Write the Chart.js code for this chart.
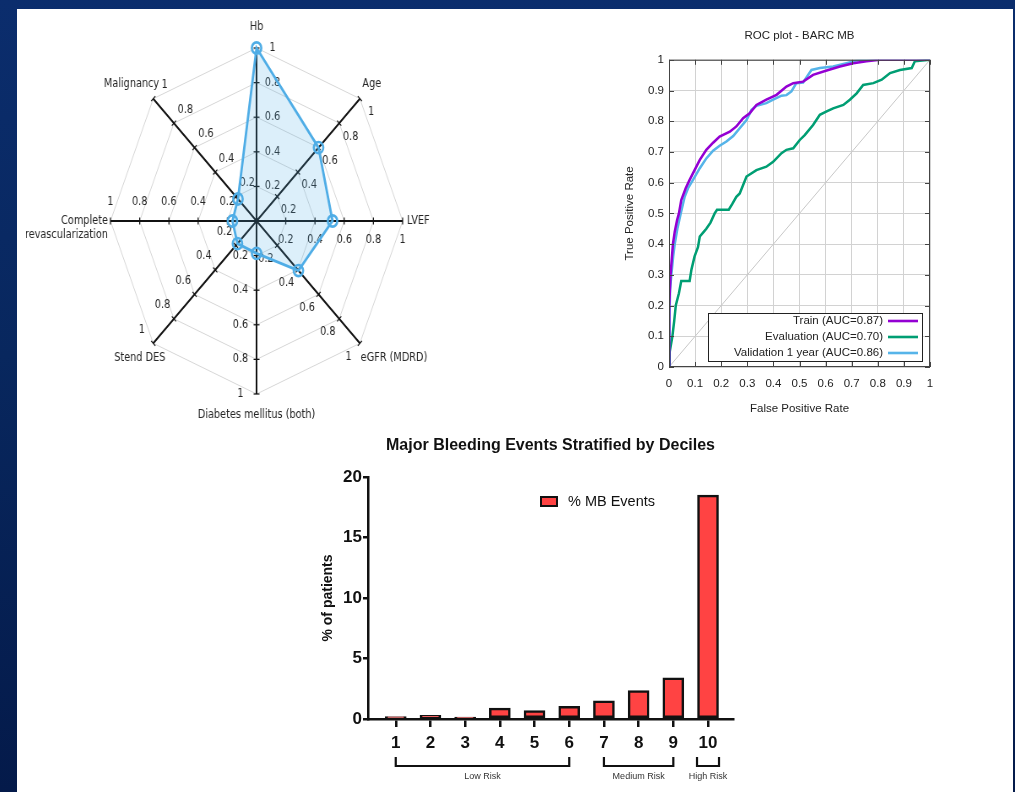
<!DOCTYPE html>
<html><head><meta charset="utf-8">
<script src="https://cdn.jsdelivr.net/npm/chart.js@4.4.1/dist/chart.umd.min.js"></script>
<style>
html,body{margin:0;padding:0;width:1015px;height:792px;overflow:hidden;}
body{position:relative;background:linear-gradient(180deg,#0b2d6d 0%,#08275e 45%,#041a4a 100%);}
#panel{position:absolute;left:17px;top:9px;width:996px;height:783px;background:#fff;}
#radarWrap{position:absolute;left:26.3px;top:8px;width:546px;height:426px;transform:scaleX(0.8445);transform-origin:0 0;}
#roc{position:absolute;left:600px;top:10px;}
#bar{position:absolute;left:300px;top:425px;}
</style></head>
<body>
<div id="panel"></div>
<div id="radarWrap"><canvas id="radar" width="546" height="426"></canvas></div>
<canvas id="roc" width="350" height="410"></canvas>
<canvas id="bar" width="450" height="367"></canvas>
<script>
// ---------- Radar data ----------
const radarAxes = ['Hb', 'Age', 'LVEF', 'eGFR (MDRD)', 'Diabetes mellitus (both)', 'Stend DES', ['Complete', 'revascularization'], 'Malignancy'];
const radarValues = [1.0, 0.6, 0.52, 0.405, 0.187, 0.185, 0.165, 0.18];
const radarTicks = [0.2, 0.4, 0.6, 0.8, 1];

// ---------- ROC data ----------
const rocTicks = [0, 0.1, 0.2, 0.3, 0.4, 0.5, 0.6, 0.7, 0.8, 0.9, 1];
const trainFpr = [0, 0.001, 0.006, 0.015, 0.022, 0.031, 0.038, 0.047, 0.064, 0.079, 0.098, 0.118, 0.143, 0.169, 0.194, 0.233, 0.258, 0.284, 0.309, 0.335, 0.373, 0.412, 0.450, 0.476, 0.514, 0.552, 0.604, 0.655, 0.706, 0.757, 0.808, 1];
const trainTpr = [0, 0.2, 0.3, 0.4, 0.44, 0.478, 0.5, 0.543, 0.582, 0.609, 0.641, 0.674, 0.707, 0.730, 0.750, 0.766, 0.783, 0.810, 0.826, 0.853, 0.870, 0.886, 0.913, 0.924, 0.929, 0.951, 0.965, 0.978, 0.989, 0.995, 1, 1];
const evalFpr = [0, 0.003, 0.013, 0.02, 0.026, 0.038, 0.047, 0.079, 0.086, 0.098, 0.111, 0.118, 0.133, 0.143, 0.159, 0.175, 0.184, 0.229, 0.242, 0.258, 0.271, 0.297, 0.335, 0.373, 0.399, 0.431, 0.450, 0.476, 0.501, 0.520, 0.552, 0.578, 0.604, 0.629, 0.668, 0.693, 0.719, 0.744, 0.783, 0.815, 0.847, 0.885, 0.930, 0.942, 1];
const evalTpr = [0, 0.05, 0.1, 0.15, 0.2, 0.24, 0.28, 0.28, 0.317, 0.36, 0.39, 0.425, 0.44, 0.45, 0.47, 0.5, 0.512, 0.512, 0.53, 0.554, 0.565, 0.62, 0.641, 0.652, 0.668, 0.696, 0.707, 0.712, 0.739, 0.755, 0.788, 0.821, 0.832, 0.842, 0.853, 0.870, 0.891, 0.918, 0.924, 0.935, 0.957, 0.967, 0.973, 0.995, 1];
const validFpr = [0, 0.002, 0.004, 0.009, 0.016, 0.022, 0.032, 0.045, 0.060, 0.073, 0.092, 0.118, 0.143, 0.169, 0.194, 0.220, 0.246, 0.271, 0.297, 0.316, 0.335, 0.373, 0.399, 0.431, 0.450, 0.469, 0.488, 0.514, 0.533, 0.546, 0.578, 0.629, 0.680, 0.719, 0.757, 1];
const validTpr = [0, 0.15, 0.25, 0.3, 0.36, 0.4, 0.45, 0.5, 0.554, 0.582, 0.609, 0.647, 0.679, 0.704, 0.720, 0.734, 0.752, 0.777, 0.804, 0.837, 0.850, 0.859, 0.870, 0.883, 0.885, 0.897, 0.924, 0.926, 0.951, 0.967, 0.973, 0.978, 0.989, 0.998, 1, 1];
const rocLabels = ['Train (AUC=0.87)', 'Evaluation (AUC=0.70)', 'Validation 1 year (AUC=0.86)'];

// ---------- Bar data ----------
const deciles = [1, 2, 3, 4, 5, 6, 7, 8, 9, 10];
const mbEvents = [0.2, 0.3, 0.15, 0.9, 0.7, 1.05, 1.5, 2.35, 3.4, 18.5];
const barYTicks = [0, 5, 10, 15, 20];
const riskGroups = ['Low Risk', 'Medium Risk', 'High Risk'];
const riskFrom = [1, 7, 10];
const riskTo = [6, 9, 10];

Chart.defaults.font.family = "'Liberation Sans', Arial, sans-serif";

// ================= RADAR =================
const radarAxisPlugin = {
  id: 'radarAxis',
  beforeDatasetsDraw(chart) {
    const s = chart.scales.r, ctx = chart.ctx;
    const n = radarAxes.length;
    const R = s.drawingArea;
    ctx.save();
    ctx.font = '11.5px "DejaVu Sans"';
    ctx.fillStyle = '#262626';
    ctx.strokeStyle = '#111';
    ctx.lineWidth = 1.2;
    for (let i = 0; i < n; i++) {
      const a = s.getIndexAngle(i) - Math.PI / 2;
      const c = Math.cos(a), sn = Math.sin(a);
      const px = -sn, py = c;
      radarTicks.forEach(v => {
        const p = s.getPointPosition(i, s.getDistanceFromCenterForValue(v));
        ctx.beginPath();
        ctx.moveTo(p.x - px * 3.5, p.y - py * 3.5);
        ctx.lineTo(p.x + px * 3.5, p.y + py * 3.5);
        ctx.stroke();
        ctx.textAlign = 'center';
        ctx.textBaseline = 'middle';
        ctx.fillText(String(v), p.x + px * 19, p.y + py * 19);
      });
      // axis name
      const e = s.getPointPosition(i, R);
      const lab = radarAxes[i];
      const lines = Array.isArray(lab) ? lab : [lab];
      let x, y, align;
      if (Math.abs(c) < 0.1) {
        align = 'center'; x = e.x; y = e.y + Math.sign(sn) * 21;
      } else if (Math.abs(sn) < 0.1) {
        align = c > 0 ? 'left' : 'right'; x = e.x + (c > 0 ? 5 : -3); y = e.y;
      } else if (sn < 0) {
        y = e.y - 15;
        if (c > 0) { align = 'left'; x = e.x + 3; } else { align = 'right'; x = e.x + 7; }
      } else {
        y = e.y + 15;
        if (c > 0) { align = 'left'; x = e.x + 1; } else { align = 'center'; x = e.x - 16; }
      }
      ctx.textAlign = align;
      ctx.textBaseline = 'middle';
      lines.forEach((t, k) => ctx.fillText(t, x, y + k * 14));
    }
    ctx.restore();
  }
};

new Chart(document.getElementById('radar'), {
  type: 'radar',
  data: {
    labels: radarAxes,
    datasets: [{
      data: radarValues,
      borderColor: '#4fade6',
      backgroundColor: 'rgba(79,173,230,0.2)',
      borderWidth: 2.8,
      fill: true,
      pointRadius: 5.6,
      pointBorderWidth: 2.6,
      pointBorderColor: '#4fade6',
      pointBackgroundColor: 'rgba(255,255,255,0)'
    }]
  },
  options: {
    responsive: false, animation: false, devicePixelRatio: 1,
    layout: { padding: { left: 100, right: 100, top: 40, bottom: 40 } },
    plugins: { legend: { display: false }, tooltip: { enabled: false } },
    scales: {
      r: {
        min: 0, max: 1,
        ticks: { display: false, stepSize: 0.2 },
        grid: { color: '#d6d6d6', lineWidth: 1 },
        angleLines: { color: '#111', lineWidth: 2 },
        pointLabels: { display: false }
      }
    }
  },
  plugins: [radarAxisPlugin]
});

// ================= ROC =================
const rocFont = { family: "'Liberation Sans', Arial, sans-serif", size: 11.5, weight: 'normal' };
const rocColors = ['#9400d3', '#009e73', '#56b4e9'];
const rocPlugin = {
  id: 'rocFrame',
  afterDraw(chart) {
    const ctx = chart.ctx, ca = chart.chartArea;
    const xs = chart.scales.x, ys = chart.scales.y;
    ctx.save();
    ctx.strokeStyle = '#444';
    ctx.lineWidth = 1;
    ctx.strokeRect(ca.left + 0.5, ca.top + 0.5, ca.right - ca.left - 1, ca.bottom - ca.top - 1);
    ctx.beginPath();
    rocTicks.forEach(v => {
      const px = Math.round(xs.getPixelForValue(v)) + 0.5;
      ctx.moveTo(px, ca.bottom); ctx.lineTo(px, ca.bottom - 5);
      ctx.moveTo(px, ca.top); ctx.lineTo(px, ca.top + 5);
      const py = Math.round(ys.getPixelForValue(v)) + 0.5;
      ctx.moveTo(ca.left, py); ctx.lineTo(ca.left + 5, py);
      ctx.moveTo(ca.right, py); ctx.lineTo(ca.right - 5, py);
    });
    ctx.stroke();
    // legend box
    const L = ca.left + 39, Rr = ca.right - 7, T = ca.bottom - 54, B = ca.bottom - 5;
    ctx.fillStyle = '#fff';
    ctx.fillRect(L, T, Rr - L, B - T);
    ctx.strokeStyle = '#222';
    ctx.strokeRect(L + 0.5, T + 0.5, Rr - L - 1, B - T - 1);
    ctx.font = "11.5px 'Liberation Sans', Arial, sans-serif";
    ctx.textAlign = 'right';
    ctx.textBaseline = 'middle';
    for (let i = 0; i < 3; i++) {
      const yy = T + 8 + i * 16;
      ctx.fillStyle = '#222';
      ctx.fillText(chart.data.datasets[i].label, Rr - 40, yy);
      ctx.strokeStyle = chart.data.datasets[i].borderColor;
      ctx.lineWidth = 2.6;
      ctx.beginPath(); ctx.moveTo(Rr - 35, yy); ctx.lineTo(Rr - 5, yy); ctx.stroke();
    }
    ctx.restore();
  }
};
const toPts = (xs, ys) => xs.map((x, i) => ({ x: x, y: ys[i] }));
new Chart(document.getElementById('roc'), {
  type: 'line',
  data: {
    datasets: [
      { label: rocLabels[0], data: toPts(trainFpr, trainTpr), borderColor: rocColors[0], borderWidth: 2.5, pointRadius: 0, tension: 0 },
      { label: rocLabels[1], data: toPts(evalFpr, evalTpr), borderColor: rocColors[1], borderWidth: 2.5, pointRadius: 0, tension: 0 },
      { label: rocLabels[2], data: toPts(validFpr, validTpr), borderColor: rocColors[2], borderWidth: 2.5, pointRadius: 0, tension: 0 },
      { label: 'ref', data: [{ x: 0, y: 0 }, { x: 1, y: 1 }], borderColor: '#c8c8c8', borderWidth: 1, pointRadius: 0 }
    ]
  },
  options: {
    responsive: false, animation: false, devicePixelRatio: 1,
    layout: { padding: { left: 23, right: 20, top: 19, bottom: 4 } },
    plugins: {
      legend: { display: false }, tooltip: { enabled: false },
      title: { display: true, fullSize: false, text: 'ROC plot - BARC MB', color: '#222', font: rocFont, padding: { top: 0, bottom: 17 } }
    },
    scales: {
      x: {
        type: 'linear', min: 0, max: 1,
        afterBuildTicks: s => { s.ticks = rocTicks.map(v => ({ value: v })); },
        ticks: { color: '#222', font: rocFont, padding: 10, maxRotation: 0, callback: v => String(v) },
        grid: { color: '#d2d2d2', drawTicks: false },
        border: { display: false },
        title: { display: true, text: 'False Positive Rate', color: '#222', font: rocFont, padding: 0 },
        afterFit: s => { s.height = 49; }
      },
      y: {
        type: 'linear', min: 0, max: 1,
        afterBuildTicks: s => { s.ticks = rocTicks.map(v => ({ value: v })); },
        ticks: { color: '#222', font: rocFont, padding: 5, callback: v => String(v) },
        grid: { color: '#d2d2d2', drawTicks: false },
        border: { display: false },
        title: { display: true, text: 'True Positive Rate', color: '#222', font: rocFont, padding: 0 },
        afterFit: s => { s.width = 46; }
      }
    }
  },
  plugins: [rocPlugin]
});

// ================= BAR =================
const barPlugin = {
  id: 'barExtras',
  afterDraw(chart) {
    const ctx = chart.ctx, ca = chart.chartArea, xs = chart.scales.x;
    const ds = chart.data.datasets[0];
    ctx.save();
    // legend
    const lx = ca.left + 173, ly = ca.top + 20;
    ctx.fillStyle = ds.backgroundColor;
    ctx.fillRect(lx, ly, 16, 9);
    ctx.strokeStyle = '#111'; ctx.lineWidth = 2;
    ctx.strokeRect(lx, ly, 16, 9);
    ctx.fillStyle = '#111';
    ctx.font = "14.5px 'Liberation Sans', Arial, sans-serif";
    ctx.textAlign = 'left'; ctx.textBaseline = 'middle';
    ctx.fillText(ds.label, ca.left + 200, ly + 5);
    // risk brackets
    ctx.lineWidth = 2.2;
    ctx.strokeStyle = '#111';
    ctx.font = "9px 'Liberation Sans', Arial, sans-serif";
    ctx.fillStyle = '#333';
    ctx.textAlign = 'center';
    for (let g = 0; g < riskGroups.length; g++) {
      let x1 = xs.getPixelForValue(riskFrom[g]);
      let x2 = xs.getPixelForValue(riskTo[g]);
      if (riskFrom[g] === riskTo[g]) { x1 -= 11; x2 += 11; }
      const yb = ca.bottom + 47, yt = ca.bottom + 38;
      ctx.beginPath();
      ctx.moveTo(x1, yt); ctx.lineTo(x1, yb); ctx.lineTo(x2, yb); ctx.lineTo(x2, yt);
      ctx.stroke();
      ctx.fillText(riskGroups[g], (x1 + x2) / 2, ca.bottom + 58);
    }
    ctx.restore();
  }
};
const boldFont = (sz) => ({ family: "'Liberation Sans', Arial, sans-serif", size: sz, weight: 'bold' });
new Chart(document.getElementById('bar'), {
  type: 'bar',
  data: {
    datasets: [{
      label: '% MB Events',
      data: deciles.map((d, i) => ({ x: d, y: mbEvents[i] })),
      backgroundColor: '#ff4343',
      borderColor: '#111',
      borderWidth: 2.5,
      borderSkipped: false,
      barThickness: 21
    }]
  },
  options: {
    responsive: false, animation: false, devicePixelRatio: 1,
    layout: { padding: { left: 20, right: 17, top: 11, bottom: 0 } },
    plugins: {
      legend: { display: false }, tooltip: { enabled: false },
      title: { display: true, fullSize: false, text: 'Major Bleeding Events Stratified by Deciles', color: '#111', font: boldFont(16), padding: { top: 0, bottom: 21.8 } }
    },
    scales: {
      x: {
        type: 'linear', min: 0.2, max: 10.72, offset: false,
        afterBuildTicks: s => { s.ticks = deciles.map(v => ({ value: v })); },
        ticks: { color: '#111', font: boldFont(17), padding: 5.8, maxRotation: 0, callback: v => String(v) },
        grid: { display: true, drawOnChartArea: false, offset: false, tickLength: 8, color: '#111', lineWidth: 2.5 },
        border: { display: true, color: '#111', width: 2.5 },
        afterFit: s => { s.height = 73; }
      },
      y: {
        min: 0, max: 20,
        afterBuildTicks: s => { s.ticks = barYTicks.map(v => ({ value: v })); },
        ticks: { color: '#111', font: boldFont(17), padding: 1 },
        grid: { display: true, drawOnChartArea: false, tickLength: 5, color: '#111', lineWidth: 2.5 },
        border: { display: true, color: '#111', width: 2.5 },
        title: { display: true, text: '% of patients', color: '#111', font: boldFont(14), padding: 0 },
        afterFit: s => { s.width = 48; }
      }
    }
  },
  plugins: [barPlugin]
});
</script>
</body></html>
